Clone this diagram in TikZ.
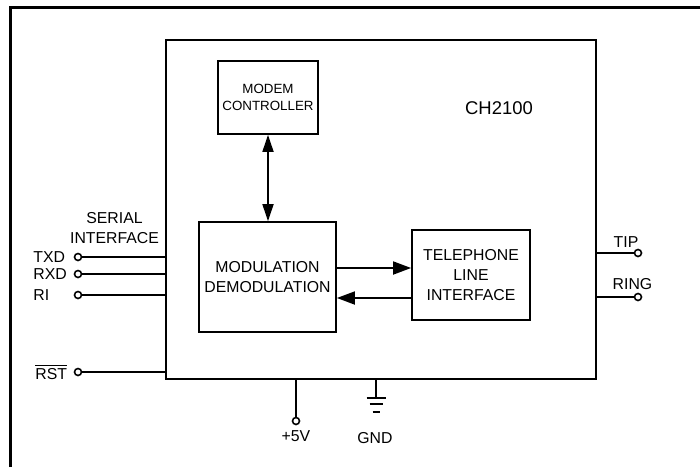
\documentclass[tikz,border=0pt]{standalone}
\usepackage{fontspec}
\setmainfont{Liberation Sans}
\usepackage{tikz}
\usetikzlibrary{calc,arrows.meta}
\tikzset{
	blk/.style={draw, line width=1pt, align=center, inner sep=0pt, font=\fontsize{9}{11.4}\selectfont},
	pinc/.style={draw, circle, line width=0.9pt, minimum size=0.14cm, inner sep=0pt, fill=white},
	lbl/.style={inner sep=0pt, font=\fontsize{9}{11.4}\selectfont},
	wire/.style={line width=1pt},
	sig/.style={line width=1pt, >={Triangle[length=0.36cm,width=0.26cm]}}
}

\begin{document}
\begin{tikzpicture}
		%%%%% START %%%%%
		\useasboundingbox (0, 0) rectangle (14, 9.34);
		
		\draw[line width=1.7pt] (0.21, 0) -- (0.21, 9.19) -- (14, 9.19);
		
		\node[blk, minimum width=8.6cm, minimum height=6.78cm] (chip) at (7.62, 5.15) {};
		\node[lbl, font=\fontsize{10.5}{12}\selectfont] (chipname) at (9.98, 7.18) {CH2100};
		
		\node[blk, minimum width=2.0cm, minimum height=1.46cm, font=\fontsize{7.6}{10}\selectfont] (modem) at (5.36, 7.39) {MODEM\\CONTROLLER};
		\node[blk, minimum width=2.74cm, minimum height=2.2cm] (mod) at (5.35, 3.8) {MODULATION\\DEMODULATION};
		\node[blk, minimum width=2.36cm, minimum height=1.8cm] (tel) at (9.42, 3.84) {TELEPHONE\\LINE\\INTERFACE};
		
		\draw[sig, <->, >={Triangle[length=0.34cm,width=0.22cm]}] (modem.south) -- (modem.south |- mod.north);
		\draw[sig, ->] ([yshift=0.18cm]mod.east) -- ([yshift=0.14cm]tel.west);
		\draw[sig, ->] ([yshift=-0.46cm]tel.west) -- ([yshift=-0.42cm]mod.east);
		
		% serial side
		\node[lbl, align=center] (serial) at (2.29, 4.78) {SERIAL\\INTERFACE};
		\node[pinc] (txd) at (1.56, 4.2) {};
		\node[pinc] (rxd) at (1.56, 3.86) {};
		\node[pinc] (ri) at (1.56, 3.44) {};
		\node[pinc] (rst) at (1.56, 1.9) {};
		\node[lbl, anchor=west] (txdl) at (0.66, 4.2) {TXD};
		\node[lbl, anchor=west] (rxdl) at (0.66, 3.86) {RXD};
		\node[lbl, anchor=west] (ril) at (0.66, 3.44) {RI};
		\node[lbl, anchor=west] (rstl) at (0.7, 1.9) {$\overline{\hbox{RST}}$};
		\draw[wire] (txd) -- (txd -| chip.west);
		\draw[wire] (rxd) -- (rxd -| chip.west);
		\draw[wire] (ri) -- (ri -| chip.west);
		\draw[wire] (rst) -- (rst -| chip.west);
		
		% line side
		\node[pinc] (tip) at (12.76, 4.28) {};
		\node[pinc] (ring) at (12.76, 3.4) {};
		\node[lbl] (tipl) at (12.52, 4.5) {TIP};
		\node[lbl] (ringl) at (12.65, 3.65) {RING};
		\draw[wire] (tip -| chip.east) -- (tip);
		\draw[wire] (ring -| chip.east) -- (ring);
		
		% supply
		\node[pinc] (vcc) at (5.92, 0.92) {};
		\node[lbl] (vccl) at (5.92, 0.62) {+5V};
		\draw[wire] (vcc |- chip.south) -- (vcc);
		
		\coordinate (gnd) at (7.52, 1.38);
		\draw[wire] (gnd |- chip.south) -- (gnd);
		\draw[wire] ($(gnd)+(-0.19, 0)$) -- ($(gnd)+(0.19, 0)$);
		\draw[wire] ($(gnd)+(-0.13, -0.12)$) -- ($(gnd)+(0.13, -0.12)$);
		\draw[wire] ($(gnd)+(-0.07, -0.28)$) -- ($(gnd)+(0.07, -0.28)$);
		\node[lbl] (gndl) at (7.5, 0.58) {GND};
		
		%%%%% END %%%%%
	\end{tikzpicture}
\end{document}
